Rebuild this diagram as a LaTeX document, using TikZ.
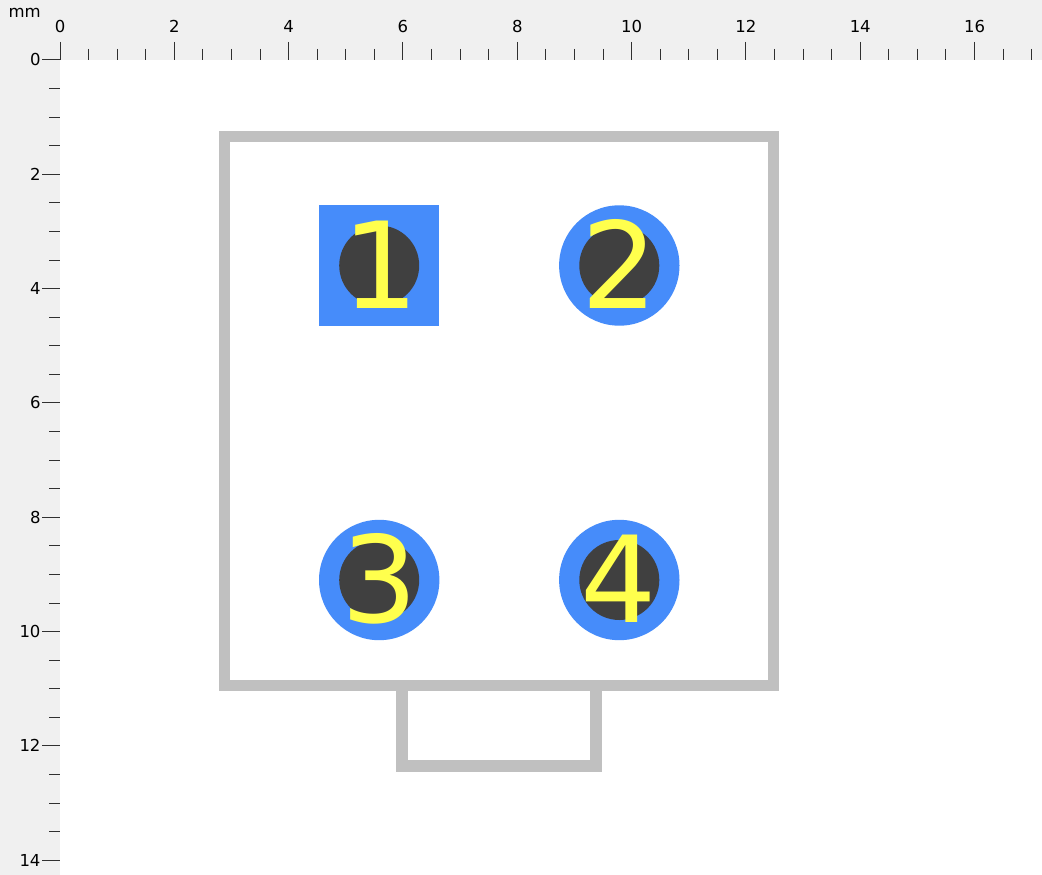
\documentclass[tikz,border=0pt]{standalone}
\usepackage{fontspec}
\setmainfont{DejaVu Sans}
\definecolor{rulerbg}{HTML}{F0F0F0}
\definecolor{outline}{HTML}{C0C0C0}
\definecolor{padblue}{HTML}{468CFA}
\definecolor{holegrey}{HTML}{404040}
\definecolor{pinyellow}{HTML}{FFFF4D}
\definecolor{tickcol}{HTML}{303030}
\tikzset{
  pxpic/.style={x=1pt,y=-1pt},
  outlinebox/.style={draw=outline,line width=11.4pt,miter limit=10},
  roundpad/.style={circle,fill=padblue,draw=none,minimum size=120.4pt,inner sep=0pt},
  squarepad/.style={rectangle,fill=padblue,draw=none,minimum size=120.4pt,inner sep=0pt},
  hole/.style={circle,fill=holegrey,draw=none,minimum size=80pt,inner sep=0pt},
  pinlabel/.style={anchor=base,inner sep=0pt,text=pinyellow,font=\fontsize{120pt}{120pt}\selectfont},
  rulerlabel/.style={inner sep=0pt,text=black,font=\fontsize{16.5pt}{16.5pt}\selectfont},
  tickline/.style={draw=tickcol,line width=1pt},
}
\begin{document}
\begin{tikzpicture}[pxpic]
\useasboundingbox (0,0) rectangle (1042,875);
\fill[rulerbg] (0,0) rectangle (1042,875);
\fill[white] (60,60) rectangle (1042,875);
% top ruler
\foreach \i in {0,...,34}{
  \pgfmathsetmacro{\tx}{60+28.58*\i}
  \pgfmathtruncatemacro{\ismajor}{mod(\i,4)==0}
  \ifnum\ismajor=1
    \draw[tickline] (\tx,42) -- (\tx,60);
    \pgfmathtruncatemacro{\lab}{\i/2}
    \node[rulerlabel,anchor=base] at (\tx,32.7) {\lab};
  \else
    \draw[tickline] (\tx,49) -- (\tx,60);
  \fi
}
% left ruler
\foreach \i in {0,...,28}{
  \pgfmathsetmacro{\ty}{60+28.58*\i}
  \pgfmathtruncatemacro{\ismajor}{mod(\i,4)==0}
  \ifnum\ismajor=1
    \draw[tickline] (42,\ty) -- (60,\ty);
    \pgfmathtruncatemacro{\lab}{\i/2}
    \node[rulerlabel,anchor=base east] at (40.7,\ty+6) {\lab};
  \else
    \draw[tickline] (49,\ty) -- (60,\ty);
  \fi
}
\node[rulerlabel,anchor=base east] (unit) at (41,18) {mm};
% body outline
\draw[outlinebox] (224.7,136.7) rectangle (773.3,685.6);
\draw[outlinebox] (402,685.6) rectangle (596,765.8);
% pads
\node[squarepad] (pad1) at (379.2,265.5) {};
\node[roundpad]  (pad2) at (619.3,265.5) {};
\node[roundpad]  (pad3) at (379.2,580) {};
\node[roundpad]  (pad4) at (619.3,580) {};
\node[hole] (hole1) at (pad1) {};
\node[hole] (hole2) at (pad2) {};
\node[hole] (hole3) at (pad3) {};
\node[hole] (hole4) at (pad4) {};
\node[pinlabel] (pin1) at (380.7,308) {1};
\node[pinlabel] (pin2) at (620,308) {2};
\node[pinlabel] (pin3) at (379.2,622.5) {3};
\node[pinlabel] (pin4) at (618.3,622.5) {4};
\end{tikzpicture}
\end{document}
